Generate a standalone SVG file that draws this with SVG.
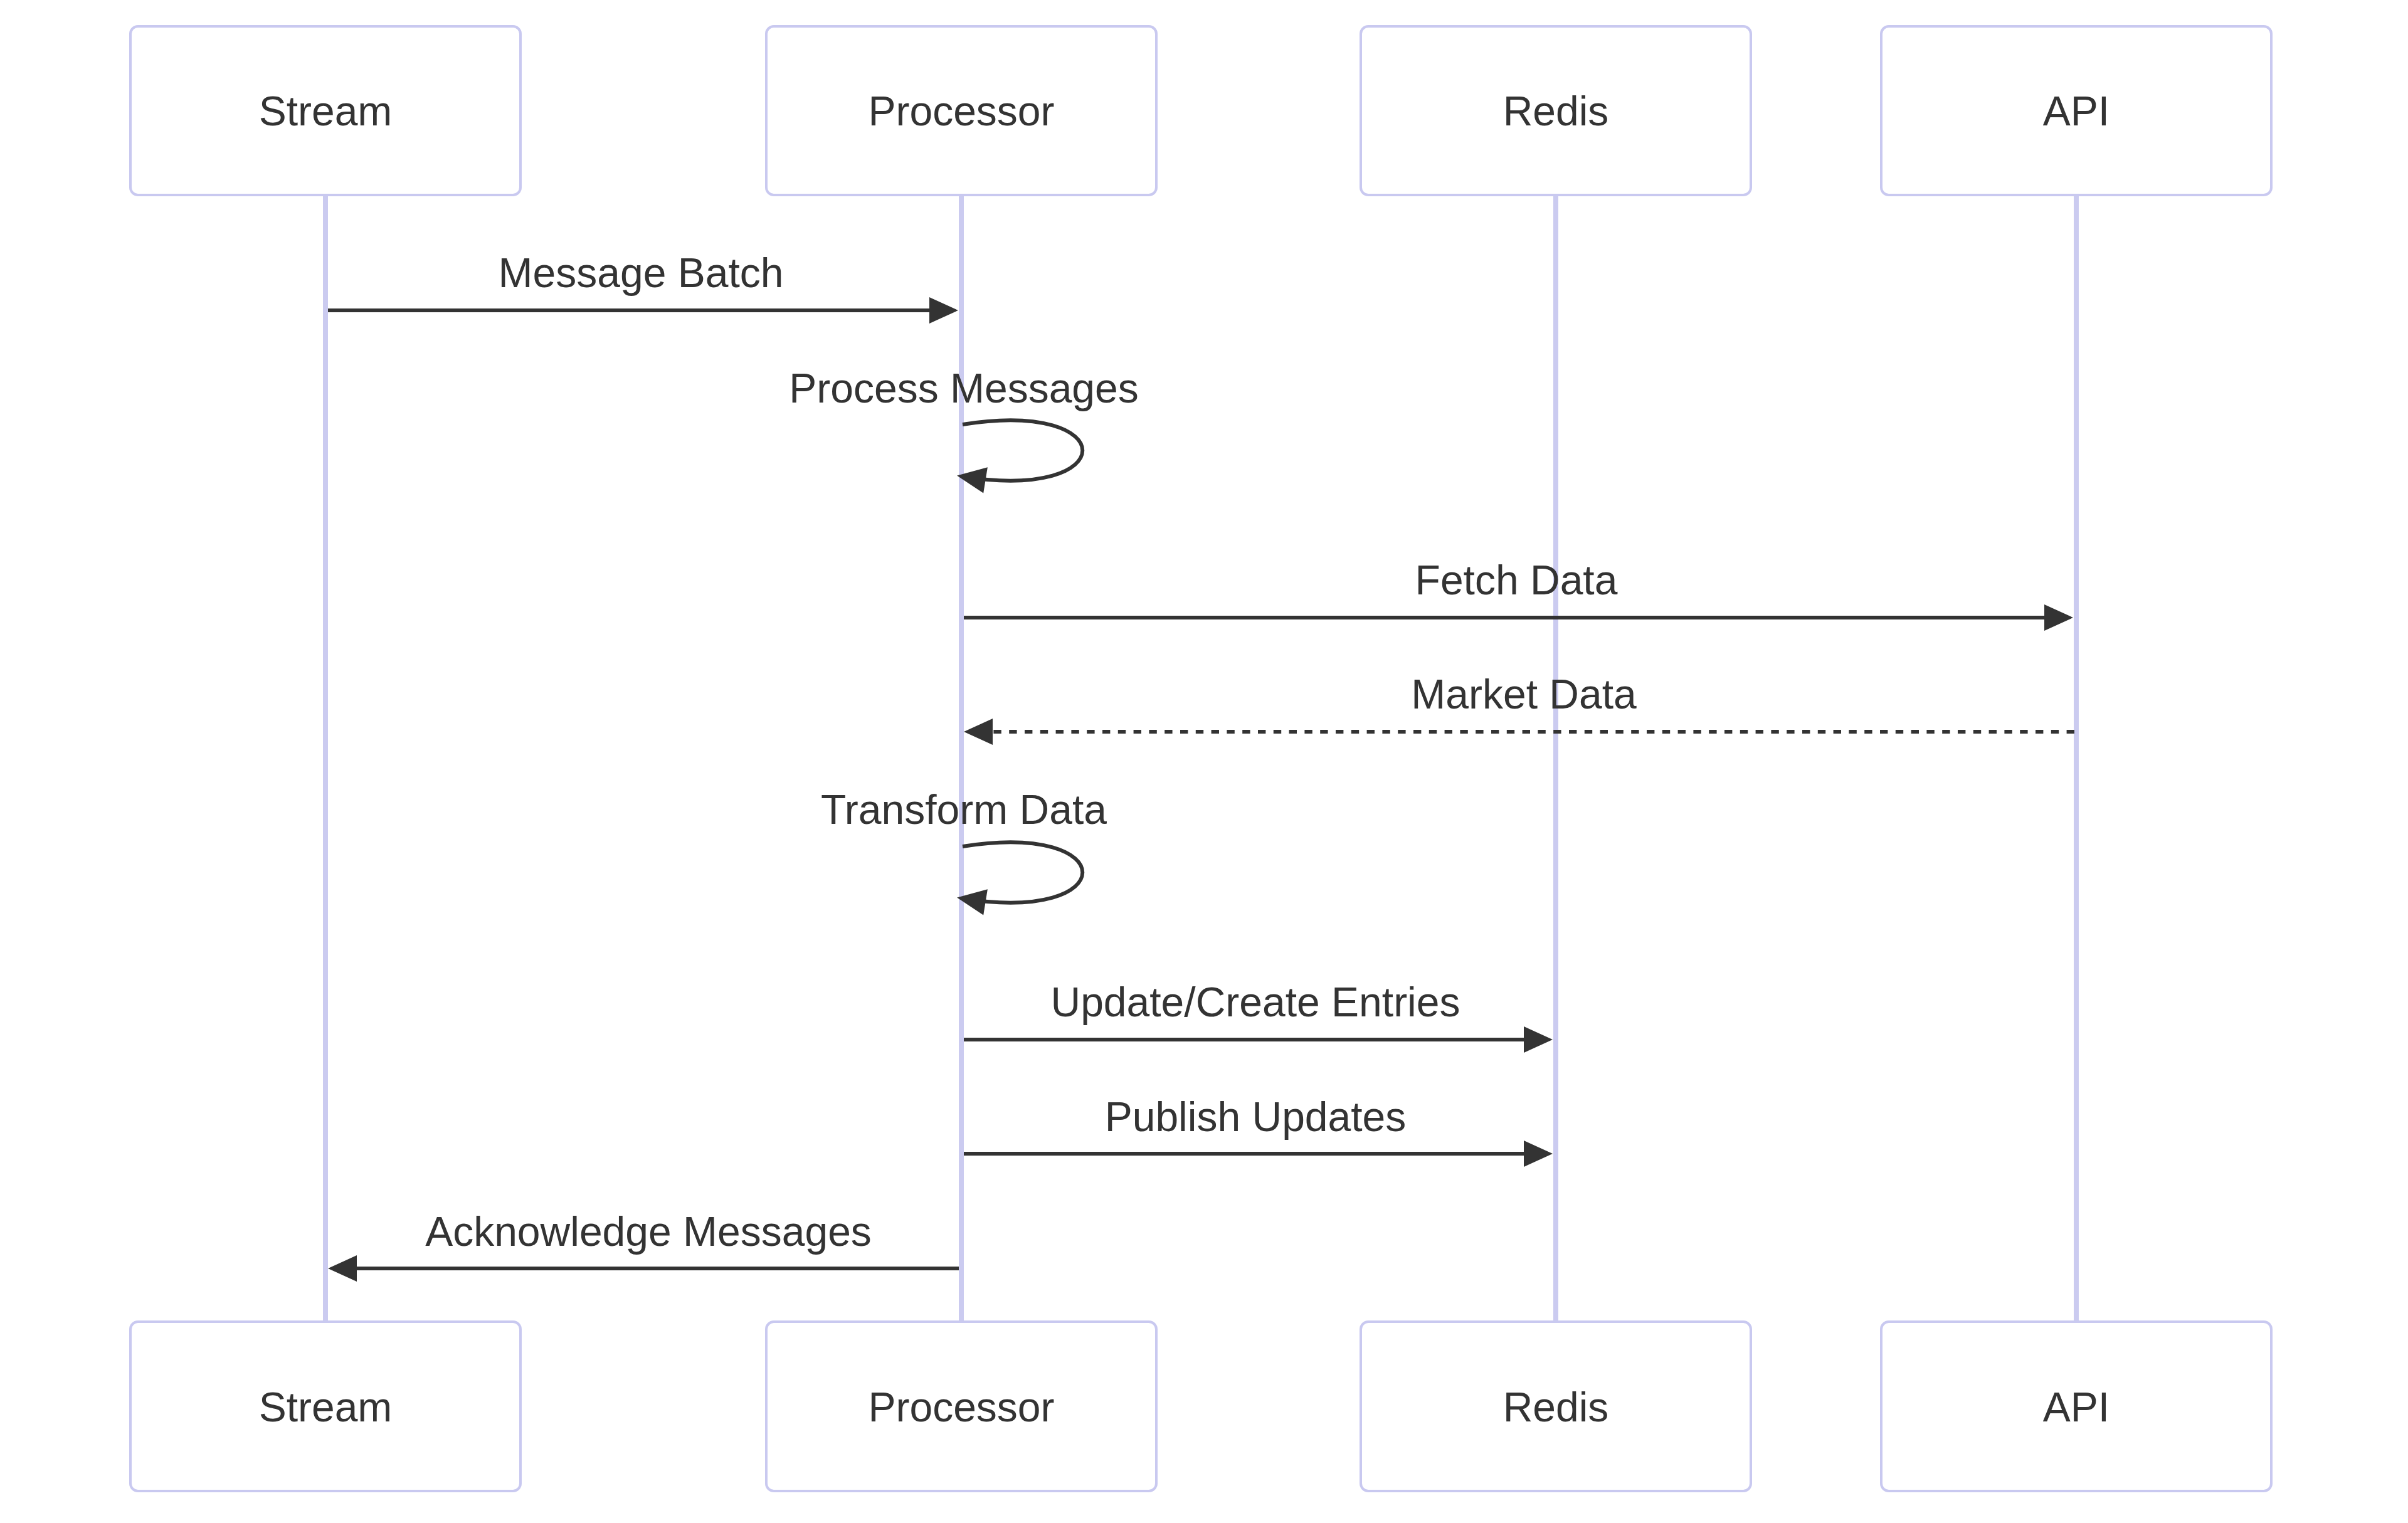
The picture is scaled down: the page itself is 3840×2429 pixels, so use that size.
<svg xmlns="http://www.w3.org/2000/svg" width="3840" height="2429" viewBox="0 0 3840 2429">
<style>
.actor{fill:#ffffff;stroke:#C9C9F0;stroke-width:4}
.actor-text{font-family:"Liberation Sans",Arial,sans-serif;font-size:66px;fill:#333333;text-anchor:middle}
.lifeline{stroke:#CBCBF0;stroke-width:8}
.msg{stroke:#333333;stroke-width:6;fill:none}
.dashed{stroke-dasharray:12.4 12.4}
.label{font-family:"Liberation Sans",Arial,sans-serif;font-size:66px;fill:#333333;text-anchor:middle}
</style>
<defs>
<marker id="arrow" markerUnits="userSpaceOnUse" markerWidth="46" markerHeight="42" refX="37" refY="21" orient="auto" overflow="visible">
<path d="M0,0 L46,21 L0,42 z" fill="#333333"/>
</marker>
</defs>
<rect width="3840" height="2429" fill="#ffffff"/>
<g id="lifelines">
<line class="lifeline" x1="519" y1="311" x2="519" y2="2108"/>
<line class="lifeline" x1="1533" y1="311" x2="1533" y2="2108"/>
<line class="lifeline" x1="2481" y1="311" x2="2481" y2="2108"/>
<line class="lifeline" x1="3311" y1="311" x2="3311" y2="2108"/>
</g>
<g id="actor-stream-top"><rect class="actor" x="208" y="42" width="622" height="269" rx="12"/><text class="actor-text" x="519" y="200">Stream</text></g>
<g id="actor-processor-top"><rect class="actor" x="1222" y="42" width="622" height="269" rx="12"/><text class="actor-text" x="1533" y="200">Processor</text></g>
<g id="actor-redis-top"><rect class="actor" x="2170" y="42" width="622" height="269" rx="12"/><text class="actor-text" x="2481" y="200">Redis</text></g>
<g id="actor-api-top"><rect class="actor" x="3000" y="42" width="622" height="269" rx="12"/><text class="actor-text" x="3311" y="200">API</text></g>
<g id="actor-stream-bottom"><rect class="actor" x="208" y="2108" width="622" height="270" rx="12"/><text class="actor-text" x="519" y="2267">Stream</text></g>
<g id="actor-processor-bottom"><rect class="actor" x="1222" y="2108" width="622" height="270" rx="12"/><text class="actor-text" x="1533" y="2267">Processor</text></g>
<g id="actor-redis-bottom"><rect class="actor" x="2170" y="2108" width="622" height="270" rx="12"/><text class="actor-text" x="2481" y="2267">Redis</text></g>
<g id="actor-api-bottom"><rect class="actor" x="3000" y="2108" width="622" height="270" rx="12"/><text class="actor-text" x="3311" y="2267">API</text></g>
<g id="connectors">
<line class="msg" x1="523" y1="495" x2="1519" y2="495" marker-end="url(#arrow)"/>
<text class="label" x="1022" y="458">Message Batch</text>
<path class="msg" d="M1535,677 C1790,636 1790,801 1535,760" marker-end="url(#arrow)"/>
<text class="label" x="1537" y="642">Process Messages</text>
<line class="msg" x1="1537" y1="985" x2="3297" y2="985" marker-end="url(#arrow)"/>
<text class="label" x="2418" y="948">Fetch Data</text>
<line class="msg dashed" x1="3308" y1="1167" x2="1546" y2="1167" marker-end="url(#arrow)"/>
<text class="label" x="2430" y="1130">Market Data</text>
<path class="msg" d="M1535,1350 C1790,1309 1790,1474 1535,1433" marker-end="url(#arrow)"/>
<text class="label" x="1537" y="1314">Transform Data</text>
<line class="msg" x1="1537" y1="1658" x2="2467" y2="1658" marker-end="url(#arrow)"/>
<text class="label" x="2002" y="1621">Update/Create Entries</text>
<line class="msg" x1="1537" y1="1840" x2="2467" y2="1840" marker-end="url(#arrow)"/>
<text class="label" x="2002" y="1804">Publish Updates</text>
<line class="msg" x1="1529" y1="2023" x2="532" y2="2023" marker-end="url(#arrow)"/>
<text class="label" x="1034" y="1987">Acknowledge Messages</text>
</g>
</svg>
